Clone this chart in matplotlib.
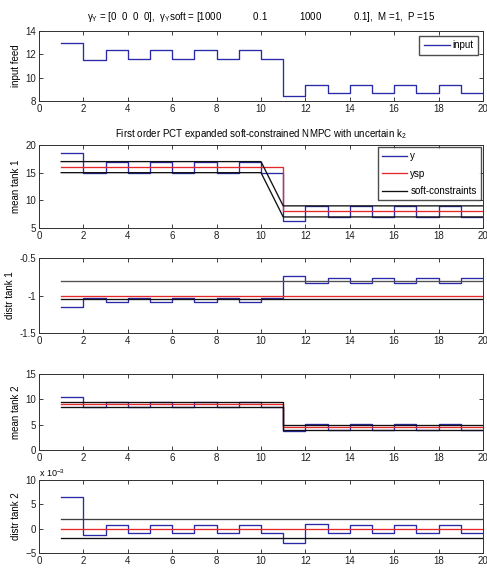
import matplotlib
matplotlib.use("Agg")
import matplotlib.pyplot as plt
import numpy as np

plt.rcParams['font.family'] = ['Liberation Sans', 'DejaVu Sans']
plt.rcParams['mathtext.fontset'] = 'custom'
plt.rcParams['mathtext.rm'] = 'Liberation Sans'
plt.rcParams['mathtext.it'] = 'Liberation Sans'

k = np.arange(1, 21)

input_feed = [13.0, 11.55, 12.35, 11.6, 12.35, 11.6, 12.35, 11.6, 12.35, 11.6,
              8.45, 9.4, 8.65, 9.4, 8.65, 9.4, 8.65, 9.4, 8.65, 8.65]

y1 = [18.6, 14.9, 17, 15, 17, 15, 17, 15, 17, 15,
      6.3, 9, 7, 9, 7, 9, 7, 9, 7, 7]
ysp1 = [16] * 10 + [8] * 10
up1 = [17] * 10 + [9] * 10
lo1 = [15] * 10 + [7] * 10

y2 = [-1.15, -1.03, -1.09, -1.03, -1.09, -1.03, -1.09, -1.03, -1.09, -1.03,
      -0.74, -0.83, -0.77, -0.83, -0.77, -0.83, -0.77, -0.83, -0.77, -0.77]
ysp2 = [-1.0] * 20
up2 = [-0.8] * 20
lo2 = [-1.05] * 20

y3 = [10.5, 8.4, 9.5, 8.5, 9.5, 8.5, 9.5, 8.5, 9.5, 8.5,
      3.8, 5.1, 4, 5.1, 4, 5.1, 4, 5.1, 4, 4]
ysp3 = [9] * 10 + [4.5] * 10
up3 = [9.5] * 10 + [5] * 10
lo3 = [8.5] * 10 + [4] * 10

y4 = [6.5, -1.3, 0.7, -0.8, 0.7, -0.8, 0.7, -0.8, 0.7, -0.8,
      -3.0, 1.0, -0.8, 0.7, -0.8, 0.7, -0.8, 0.7, -0.8, -0.8]   # x 1e-3
ysp4 = [0] * 20
up4 = [2] * 20
lo4 = [-2] * 20

W, H = 487, 574
fig = plt.figure(figsize=(W / 100, H / 100), dpi=100)

blue = '#2a2aa8'
red = '#e82828'
blk = '#101010'

tops = [31, 145, 258, 374, 480]
bots = [101, 228, 333, 450, 553]
left, right = 39, 483

axes = []
for t, b in zip(tops, bots):
    ax = fig.add_axes([left / W, 1 - b / H, (right - left) / W, (b - t) / H])
    axes.append(ax)

ylims = [(8, 14), (5, 20), (-1.5, -0.5), (0, 15), (-5, 10)]
yticks = [[8, 10, 12, 14], [5, 10, 15, 20], [-1.5, -1, -0.5], [0, 5, 10, 15], [-5, 0, 5, 10]]
ylabels = ['input feed', 'mean tank 1', 'distr tank 1', 'mean tank 2', 'distr tank 2']
ytl = [None, None, ['-1.5', '-1', '-0.5'], None, None]

lw = 0.95
# panel 1
ax = axes[0]
ax.step(k, input_feed, where='post', color=blue, lw=lw, label='input')
ax.legend(loc='upper right', fontsize=7, handlelength=2.7, handletextpad=0.3, frameon=True,
          fancybox=False, edgecolor='#202020', borderpad=0.45, borderaxespad=0.5)
ax.set_title("γ$_Y$ = [0  0  0  0],  γ$_Y$soft = [1000            0.1            1000            0.1],  M =1,  P =15",
             fontsize=7, pad=8)

# panel 2
ax = axes[1]
ax.step(k, y1, where='post', color=blue, lw=lw, label='y')
ax.step(k, ysp1, where='post', color=red, lw=lw, label='ysp')
ax.plot(k, up1, color=blk, lw=lw, label='soft-constraints')
ax.plot(k, lo1, color=blk, lw=lw)
ax.legend(loc='upper right', fontsize=7, handlelength=2.6, handletextpad=0.3, frameon=True,
          fancybox=False, edgecolor='#202020', borderpad=0.45, labelspacing=0.75,
          borderaxespad=0.2)
ax.set_title("First order PCT expanded soft-constrained NMPC with uncertain k$_2$",
             fontsize=7, pad=6)

# panel 3
ax = axes[2]
ax.step(k, y2, where='post', color=blue, lw=lw)
ax.step(k, ysp2, where='post', color=red, lw=lw)
ax.step(k, up2, where='post', color='#505050', lw=lw)
ax.step(k, lo2, where='post', color=blk, lw=lw)

# panel 4
ax = axes[3]
ax.step(k, y3, where='post', color=blue, lw=lw)
ax.step(k, ysp3, where='post', color=red, lw=lw)
ax.step(k, up3, where='post', color=blk, lw=lw)
ax.step(k, lo3, where='post', color=blk, lw=lw)

# panel 5
ax = axes[4]
ax.step(k, y4, where='post', color=blue, lw=lw)
ax.step(k, ysp4, where='post', color=red, lw=lw)
ax.step(k, up4, where='post', color='#404040', lw=lw)
ax.step(k, lo4, where='post', color=blk, lw=lw)
ax.text(0.0, 1.02, r"x 10$^{-3}$", transform=ax.transAxes, fontsize=6.5, va='bottom', ha='left')

for i, ax in enumerate(axes):
    ax.set_xlim(0, 20)
    ax.set_ylim(*ylims[i])
    ax.set_xticks(range(0, 21, 2))
    ax.set_yticks(yticks[i])
    if ytl[i]:
        ax.set_yticklabels(ytl[i])
    ax.set_ylabel(ylabels[i], fontsize=7, labelpad=3)
    ax.tick_params(direction='in', top=True, right=True, labelsize=7, length=3, width=0.6,
                   pad=2, colors='#202020')
    for s in ax.spines.values():
        s.set_linewidth(0.7)
        s.set_color('#303030')

fig.savefig('out.png', dpi=100)
